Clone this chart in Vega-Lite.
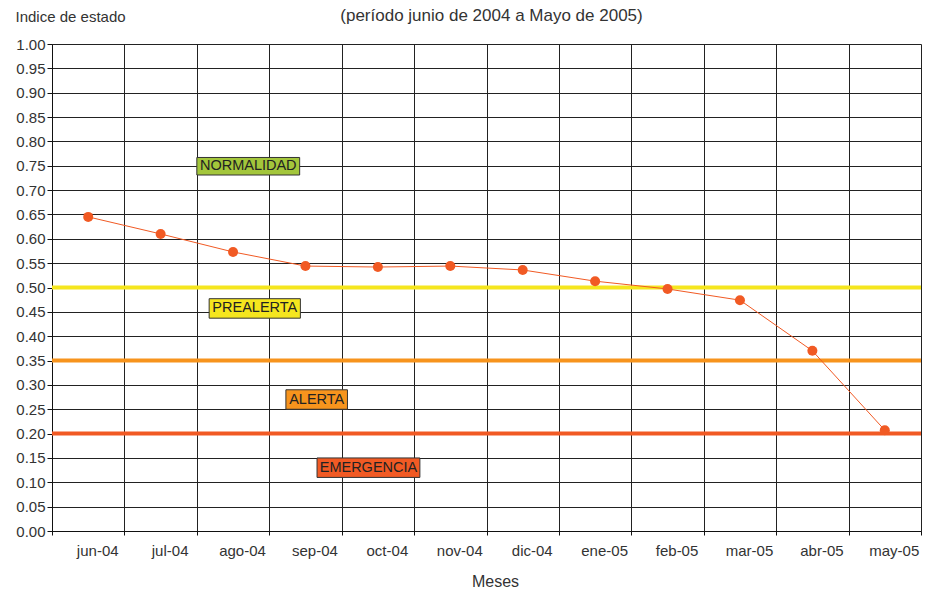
{
  "$schema": "https://vega.github.io/schema/vega-lite/v6.json",
  "width": 869,
  "height": 487,
  "autosize": {"type": "none"},
  "padding": {"left": 52, "top": 44, "right": 5, "bottom": 62},
  "background": "white",
  "config": {
    "font": "Liberation Sans",
    "view": {"stroke": null},
    "axis": {
      "labelFont": "Liberation Sans",
      "titleFont": "Liberation Sans",
      "labelColor": "#333333",
      "titleColor": "#333333",
      "titleFontWeight": "normal",
      "gridColor": "#222222",
      "gridOpacity": 1,
      "gridWidth": 1,
      "domainColor": "#111111",
      "tickColor": "#111111",
      "labelOverlap": false
    }
  },
  "title": {
    "text": "(período junio de 2004 a Mayo de  2005)",
    "fontSize": 17,
    "fontWeight": "normal",
    "color": "#333333",
    "anchor": "middle",
    "offset": -16,
    "dx": 5
  },
  "datasets": {
    "serie": [
      {"mes": "jun-04", "valor": 0.645},
      {"mes": "jul-04", "valor": 0.610},
      {"mes": "ago-04", "valor": 0.573},
      {"mes": "sep-04", "valor": 0.544},
      {"mes": "oct-04", "valor": 0.542},
      {"mes": "nov-04", "valor": 0.544},
      {"mes": "dic-04", "valor": 0.536},
      {"mes": "ene-05", "valor": 0.513},
      {"mes": "feb-05", "valor": 0.497},
      {"mes": "mar-05", "valor": 0.474},
      {"mes": "abr-05", "valor": 0.370},
      {"mes": "may-05", "valor": 0.207}
    ],
    "umbrales": [
      {"nivel": "PREALERTA", "valor": 0.50},
      {"nivel": "ALERTA", "valor": 0.35},
      {"nivel": "EMERGENCIA", "valor": 0.20}
    ],
    "etiquetas": [
      {"nivel": "NORMALIDAD", "x1": 2.00, "x2": 3.42, "y1": 0.731, "y2": 0.767, "xc": 2.71, "yc": 0.749},
      {"nivel": "PREALERTA", "x1": 2.17, "x2": 3.43, "y1": 0.437, "y2": 0.477, "xc": 2.80, "yc": 0.457},
      {"nivel": "ALERTA", "x1": 3.23, "x2": 4.08, "y1": 0.250, "y2": 0.290, "xc": 3.655, "yc": 0.270},
      {"nivel": "EMERGENCIA", "x1": 3.66, "x2": 5.08, "y1": 0.110, "y2": 0.150, "xc": 4.37, "yc": 0.130}
    ]
  },
  "resolve": {
    "scale": {"x": "independent", "y": "independent"},
    "axis": {"x": "independent", "y": "independent"}
  },
  "layer": [
    {
      "data": {"name": "serie"},
      "encoding": {
        "x": {
          "field": "mes", "type": "nominal", "sort": null,
          "scale": {"paddingInner": 0, "paddingOuter": 0},
          "axis": {
            "title": "Meses",
            "titleFontSize": 16,
            "titleX": 443,
            "titleY": 50,
            "titleAnchor": null,
            "titleAlign": "center",
            "titleBaseline": "middle",
            "labelAngle": 0,
            "labelFontSize": 15,
            "labelOffset": 9,
            "labelPadding": 8,
            "tickBand": "extent",
            "tickSize": 4,
            "grid": true,
            "domain": true
          }
        },
        "y": {
          "field": "valor", "type": "quantitative",
          "scale": {"domain": [0, 1], "nice": false, "zero": true},
          "axis": {
            "title": "Indice de estado",
            "titleAngle": 0,
            "titleAlign": "left",
            "titleBaseline": "middle",
            "titleX": -37,
            "titleY": -28,
            "titleFontSize": 15,
            "values": [0, 0.05, 0.1, 0.15, 0.2, 0.25, 0.3, 0.35, 0.4, 0.45, 0.5, 0.55, 0.6, 0.65, 0.7, 0.75, 0.8, 0.85, 0.9, 0.95, 1.0],
            "format": ".2f",
            "labelOverlap": false,
            "labelFontSize": 15,
            "labelPadding": 2,
            "tickSize": 5,
            "grid": true,
            "domain": true
          }
        }
      },
      "layer": [
        {
          "mark": {"type": "line", "color": "#F15A24", "strokeWidth": 1, "opacity": 0}
        },
        {
          "data": {"name": "umbrales"},
          "mark": {"type": "rule", "strokeWidth": 4},
          "encoding": {
            "x": null,
            "color": {
              "field": "nivel", "type": "nominal",
              "scale": {"domain": ["PREALERTA", "ALERTA", "EMERGENCIA"], "range": ["#F5E61E", "#F7941D", "#F15A24"]},
              "legend": null
            }
          }
        },
        {
          "mark": {"type": "line", "color": "#F15A24", "strokeWidth": 1}
        },
        {
          "mark": {"type": "point", "filled": true, "color": "#F15A24", "size": 100, "opacity": 1}
        }
      ]
    },
    {
      "data": {"name": "etiquetas"},
      "encoding": {
        "y": {"field": "y1", "type": "quantitative", "scale": {"domain": [0, 1], "nice": false, "zero": true}, "axis": null}
      },
      "layer": [
        {
          "mark": {"type": "rect", "stroke": "#333333", "strokeWidth": 1},
          "encoding": {
            "x": {"field": "x1", "type": "quantitative", "scale": {"domain": [0, 12], "nice": false, "zero": true}, "axis": null},
            "x2": {"field": "x2"},
            "y2": {"field": "y2"},
            "fill": {
              "field": "nivel", "type": "nominal",
              "scale": {"domain": ["NORMALIDAD", "PREALERTA", "ALERTA", "EMERGENCIA"], "range": ["#A3C63B", "#F5E61E", "#F7941D", "#F15A24"]},
              "legend": null
            }
          }
        },
        {
          "mark": {"type": "text", "fontSize": 14.5, "color": "#222222", "align": "center", "baseline": "middle"},
          "encoding": {
            "x": {"field": "xc", "type": "quantitative", "axis": null},
            "y": {"field": "yc", "type": "quantitative", "axis": null},
            "text": {"field": "nivel"}
          }
        }
      ]
    }
  ]
}
